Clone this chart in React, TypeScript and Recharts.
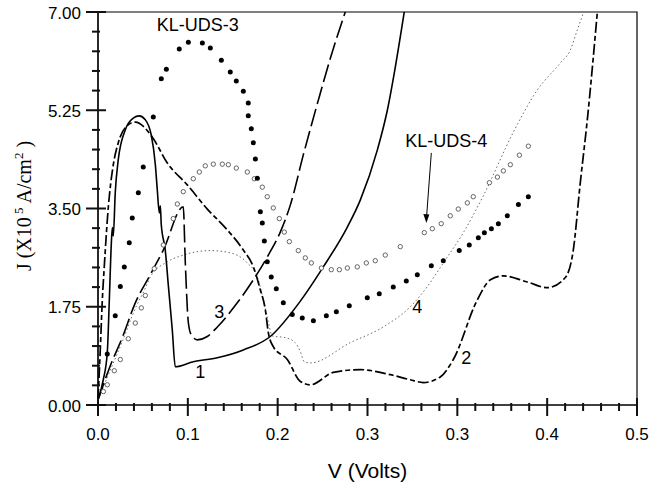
import React from "react";
import { ComposedChart, Line, Scatter, XAxis, YAxis, ReferenceArea, Label } from "recharts";

// V (Volts), J (x10^5 A/cm^2)
const curve1: [number, number][] = [
  [0, 0.09], [0.0049, 0.45], [0.0086, 0.93], [0.0105, 1.87], [0.0123, 2.85], [0.0133, 3.16],
  [0.0142, 3.01], [0.016, 3.78], [0.0188, 4.37], [0.0253, 4.9], [0.0327, 5.11], [0.0383, 5.15],
  [0.0439, 5.08], [0.0494, 4.81], [0.0532, 4.28], [0.055, 3.83], [0.0569, 3.42], [0.0578, 3.55],
  [0.0587, 3.21], [0.0624, 2.76], [0.0652, 2.14], [0.0689, 1.34], [0.0717, 0.68], [0.0884, 0.77],
  [0.1107, 0.84], [0.1348, 0.98], [0.1598, 1.22], [0.1877, 1.85], [0.209, 2.46], [0.2313, 3.17],
  [0.2433, 3.65], [0.2591, 4.54], [0.2684, 5.25], [0.2758, 6.02], [0.2841, 7.0],
];

const curve2: [number, number][] = [
  [0, 0.09], [0.0021, 0.98], [0.004, 1.87], [0.0058, 2.46], [0.0096, 3.53], [0.0142, 4.28],
  [0.0188, 4.67], [0.0253, 4.94], [0.0346, 5.04], [0.0504, 4.77], [0.0643, 4.31], [0.0828, 3.92],
  [0.1014, 3.49], [0.1199, 3.12], [0.1348, 2.76], [0.1441, 2.46], [0.1506, 2.05], [0.1552, 1.7],
  [0.158, 1.29], [0.1626, 1.04], [0.1756, 0.81], [0.1877, 0.42], [0.197, 0.36], [0.2183, 0.58],
  [0.2433, 0.63], [0.2711, 0.54], [0.2897, 0.45], [0.3018, 0.4], [0.3175, 0.5], [0.3296, 0.81],
  [0.3518, 1.87], [0.364, 2.23], [0.376, 2.3], [0.3983, 2.19], [0.4168, 2.09], [0.4335, 2.27],
  [0.4409, 2.76], [0.4474, 3.96], [0.4539, 5.08], [0.4632, 7.0],
];

const curve3: [number, number][] = [
  [0, 0.09], [0.0114, 0.7], [0.0225, 1.2], [0.0346, 1.82], [0.0485, 2.32], [0.0606, 2.76],
  [0.0791, 3.53], [0.081, 2.53], [0.0838, 1.47], [0.0865, 1.25], [0.0921, 1.16], [0.1014, 1.22],
  [0.1107, 1.39], [0.1292, 1.82], [0.1441, 2.23], [0.158, 2.67], [0.1691, 3.08], [0.1784, 3.56],
  [0.1904, 4.45], [0.2044, 5.43], [0.2164, 6.23], [0.2294, 7.0],
];

const curve4: [number, number][] = [
  [0, 0.09], [0.0114, 0.62], [0.0225, 1.13], [0.0346, 1.72], [0.0439, 2.08], [0.0485, 2.28],
  [0.0643, 2.55], [0.0791, 2.67], [0.1042, 2.75], [0.1227, 2.71], [0.1385, 2.53], [0.1478, 2.28],
  [0.1534, 1.87], [0.158, 1.48], [0.1617, 1.23], [0.1737, 1.2], [0.183, 1.11], [0.1877, 0.95],
  [0.1914, 0.77], [0.197, 0.75], [0.234, 1.11], [0.2646, 1.39], [0.2897, 1.75], [0.3055, 2.11],
  [0.3203, 2.53], [0.3389, 3.07], [0.3565, 3.69], [0.3853, 4.86], [0.4075, 5.61], [0.4288, 6.09],
  [0.4381, 6.32], [0.4446, 6.68], [0.4502, 6.98],
];

// KL-UDS-3 (filled) and KL-UDS-4 (open) samples
const uds3: [number, number][] = [
  [0.0086, 0.91], [0.016, 1.59], [0.0207, 2.11], [0.0244, 2.46], [0.029, 2.89], [0.0318, 3.33],
  [0.0374, 3.78], [0.042, 4.24], [0.0513, 5.13], [0.0587, 5.81], [0.0634, 5.98], [0.0754, 6.34],
  [0.0838, 6.46], [0.0968, 6.45], [0.1042, 6.36], [0.1144, 6.14], [0.1227, 5.93], [0.1283, 5.77],
  [0.1348, 5.59], [0.1394, 5.38], [0.1394, 5.15], [0.1422, 4.92], [0.1441, 4.67], [0.146, 4.38],
  [0.1478, 4.04], [0.1506, 3.44], [0.1524, 3.24], [0.1543, 2.92], [0.157, 2.55], [0.1607, 2.28],
  [0.1654, 2.07], [0.1719, 1.82], [0.1802, 1.61], [0.1895, 1.55], [0.1998, 1.5], [0.2118, 1.59],
  [0.2211, 1.66], [0.2331, 1.77], [0.2498, 1.91], [0.2609, 1.98], [0.2739, 2.1], [0.286, 2.21],
  [0.2962, 2.32], [0.3092, 2.48], [0.3203, 2.57], [0.3351, 2.75], [0.3444, 2.85], [0.3528, 2.98],
  [0.3584, 3.07], [0.3649, 3.14], [0.3714, 3.23], [0.3797, 3.37], [0.39, 3.57], [0.3992, 3.71],
];

const uds4: [number, number][] = [
  [0.005, 0.24], [0.0086, 0.36], [0.0151, 0.61], [0.0207, 0.81], [0.0281, 1.18], [0.0346, 1.46],
  [0.0402, 1.73], [0.0439, 1.95], [0.0522, 2.43], [0.0606, 2.85], [0.0698, 3.32], [0.0736, 3.58],
  [0.0791, 3.8], [0.0884, 4.03], [0.094, 4.15], [0.0995, 4.26], [0.107, 4.29], [0.1153, 4.29],
  [0.1209, 4.28], [0.1283, 4.22], [0.1385, 4.15], [0.145, 4.03], [0.1524, 3.88], [0.157, 3.71],
  [0.1626, 3.51], [0.1682, 3.32], [0.1728, 3.08], [0.1775, 2.91], [0.1858, 2.75], [0.1923, 2.62],
  [0.1979, 2.53], [0.2072, 2.44], [0.2164, 2.41], [0.2239, 2.41], [0.2313, 2.44], [0.2405, 2.46],
  [0.2489, 2.53], [0.2572, 2.57], [0.2665, 2.67], [0.2804, 2.82], [0.3027, 3.07], [0.3101, 3.14],
  [0.3184, 3.23], [0.3268, 3.37], [0.3342, 3.49], [0.3426, 3.6], [0.3481, 3.71], [0.3631, 3.96],
  [0.3705, 4.06], [0.376, 4.17], [0.3825, 4.28], [0.3909, 4.45], [0.3992, 4.61],
];

const xTickLabels = ["0.0", "0.1", "0.2", "0.3", "0.3", "0.4", "0.5"];
const yTickLabels = ["0.00", "1.75", "3.50", "5.25", "7.00"];

const curveLabels = [
  { text: "1", x: 0.0949, y: 0.59 },
  { text: "3", x: 0.1125, y: 1.66 },
  { text: "4", x: 0.2962, y: 1.75 },
  { text: "2", x: 0.3416, y: 0.84 },
  { text: "KL-UDS-3", x: 0.0926, y: 6.77 },
  { text: "KL-UDS-4", x: 0.3231, y: 4.7 },
];
const arrowLine = [
  { x: 0.3092, y: 4.49 },
  { x: 0.3046, y: 3.3 },
];
const arrowTip = [{ x: 0.3046, y: 3.24 }];

const SANS = "'Liberation Sans', Arial, sans-serif";
const SERIF = "'Liberation Serif', 'Times New Roman', serif";

const pts = (arr: [number, number][]) => arr.map(([x, y]) => ({ x, y }));

// 30 sub-steps on x (major every 5), 20 on y (major every 5)
const xTicks = Array.from({ length: 31 }, (_, i) => i / 60);
const yTicks = Array.from({ length: 21 }, (_, i) => (i * 7) / 20);

// tick marks cross the axis line, labels on the major ones only
const XTick = (props: any) => {
  const x = Number(props.x);
  const y = Number(props.y);
  const k = Math.round(props.payload.value * 60);
  const major = k % 5 === 0;
  const len = major ? 9 : 4;
  return (
    <g>
      <rect x={x - 1} y={y - len} width={2} height={2 * len} fill="#111" />
      {major && (
        <text x={x} y={y + 33} textAnchor="middle" fontSize={17} fontFamily={SANS} fill="#000">
          {xTickLabels[k / 5]}
        </text>
      )}
    </g>
  );
};

const YTick = (props: any) => {
  const x = Number(props.x);
  const y = Number(props.y);
  const k = Math.round((props.payload.value * 20) / 7);
  const major = k % 5 === 0;
  const len = major ? 10 : 4;
  return (
    <g>
      <rect x={x - len} y={y - 1} width={2 * len} height={2} fill="#111" />
      {major && (
        <text x={x - 15} y={y + 6.5} textAnchor="end" fontSize={17} fontFamily={SANS} fill="#000">
          {yTickLabels[k / 5]}
        </text>
      )}
    </g>
  );
};

// both axis titles, placed from the x-axis box
const AxisTitles = (p: any) => {
  const vb = p.viewBox;
  const ty = vb.y - 199;
  const tx = vb.x - 67;
  return (
    <g>
      <text x={vb.x + vb.width / 2} y={vb.y + 73} textAnchor="middle" fontSize={21} fontFamily={SANS} fill="#000">
        V (Volts)
      </text>
      <text x={tx} y={ty} transform={`rotate(-90, ${tx}, ${ty})`} textAnchor="middle" fontSize={20} fontFamily={SERIF} fill="#000">
        J (X10
        <tspan fontSize={13} dy={-8}> 5</tspan>
        <tspan dy={8}> A/cm</tspan>
        <tspan fontSize={13} dy={-8}>2</tspan>
        <tspan dy={8}> )</tspan>
      </text>
    </g>
  );
};

const labelShape = (p: any) => (
  <text x={p.cx} y={p.cy} textAnchor="middle" dominantBaseline="central" fontSize={18} fontFamily={SANS} fill="#000">
    {p.payload.text}
  </text>
);

const arrowHead = (p: any) => (
  <path d={`M${p.cx},${p.cy} L${p.cx - 3},${p.cy - 9} L${p.cx + 3},${p.cy - 8.6} Z`} fill="#000" />
);

const filledDot = (p: any) => <circle cx={p.cx} cy={p.cy} r={2.5} fill="#000" />;
const openDot = (p: any) => (
  <circle cx={p.cx} cy={p.cy} r={2.2} fill="#fff" stroke="#555" strokeWidth={0.9} />
);

export default function App() {
  return (
    <div style={{ position: "absolute", left: 0, top: 0 }}>
      <ComposedChart width={651} height={485} margin={{ top: 12, right: 14, bottom: 0, left: 0 }}>
        <XAxis
          type="number"
          dataKey="x"
          domain={[0, 0.5]}
          ticks={xTicks}
          interval={0}
          tick={XTick}
          tickSize={0}
          tickLine={false}
          axisLine={{ stroke: "#000", strokeWidth: 1.2 }}
          height={80}
        >
          <Label content={AxisTitles} />
        </XAxis>
        <YAxis
          type="number"
          dataKey="y"
          domain={[0, 7]}
          ticks={yTicks}
          interval={0}
          tick={YTick}
          tickSize={0}
          tickLine={false}
          axisLine={{ stroke: "#000", strokeWidth: 1.2 }}
          width={98}
        />
        <ReferenceArea x1={0} x2={0.5} y1={0} y2={7} fill="none" stroke="#000" strokeWidth={1.2} ifOverflow="visible" />

        <Line data={pts(curve4)} dataKey="y" type="monotone" stroke="#444" strokeWidth={0.8} strokeDasharray="1.5 2.5" dot={false} activeDot={false} isAnimationActive={false} />
        <Line data={pts(curve3)} dataKey="y" type="monotone" stroke="#000" strokeWidth={1.6} strokeDasharray="18 5" dot={false} activeDot={false} isAnimationActive={false} />
        <Line data={pts(curve2)} dataKey="y" type="monotone" stroke="#000" strokeWidth={1.7} strokeDasharray="11 3 5 3" dot={false} activeDot={false} isAnimationActive={false} />
        <Line data={pts(curve1)} dataKey="y" type="monotone" stroke="#000" strokeWidth={1.6} dot={false} activeDot={false} isAnimationActive={false} />
        <Line data={arrowLine} dataKey="y" type="linear" stroke="#000" strokeWidth={1} dot={false} activeDot={false} isAnimationActive={false} />

        <Scatter data={pts(uds4)} dataKey="y" shape={openDot} isAnimationActive={false} />
        <Scatter data={pts(uds3)} dataKey="y" shape={filledDot} isAnimationActive={false} />
        <Scatter data={arrowTip} dataKey="y" shape={arrowHead} isAnimationActive={false} />
        <Scatter data={curveLabels} dataKey="y" shape={labelShape} isAnimationActive={false} />
      </ComposedChart>
    </div>
  );
}
